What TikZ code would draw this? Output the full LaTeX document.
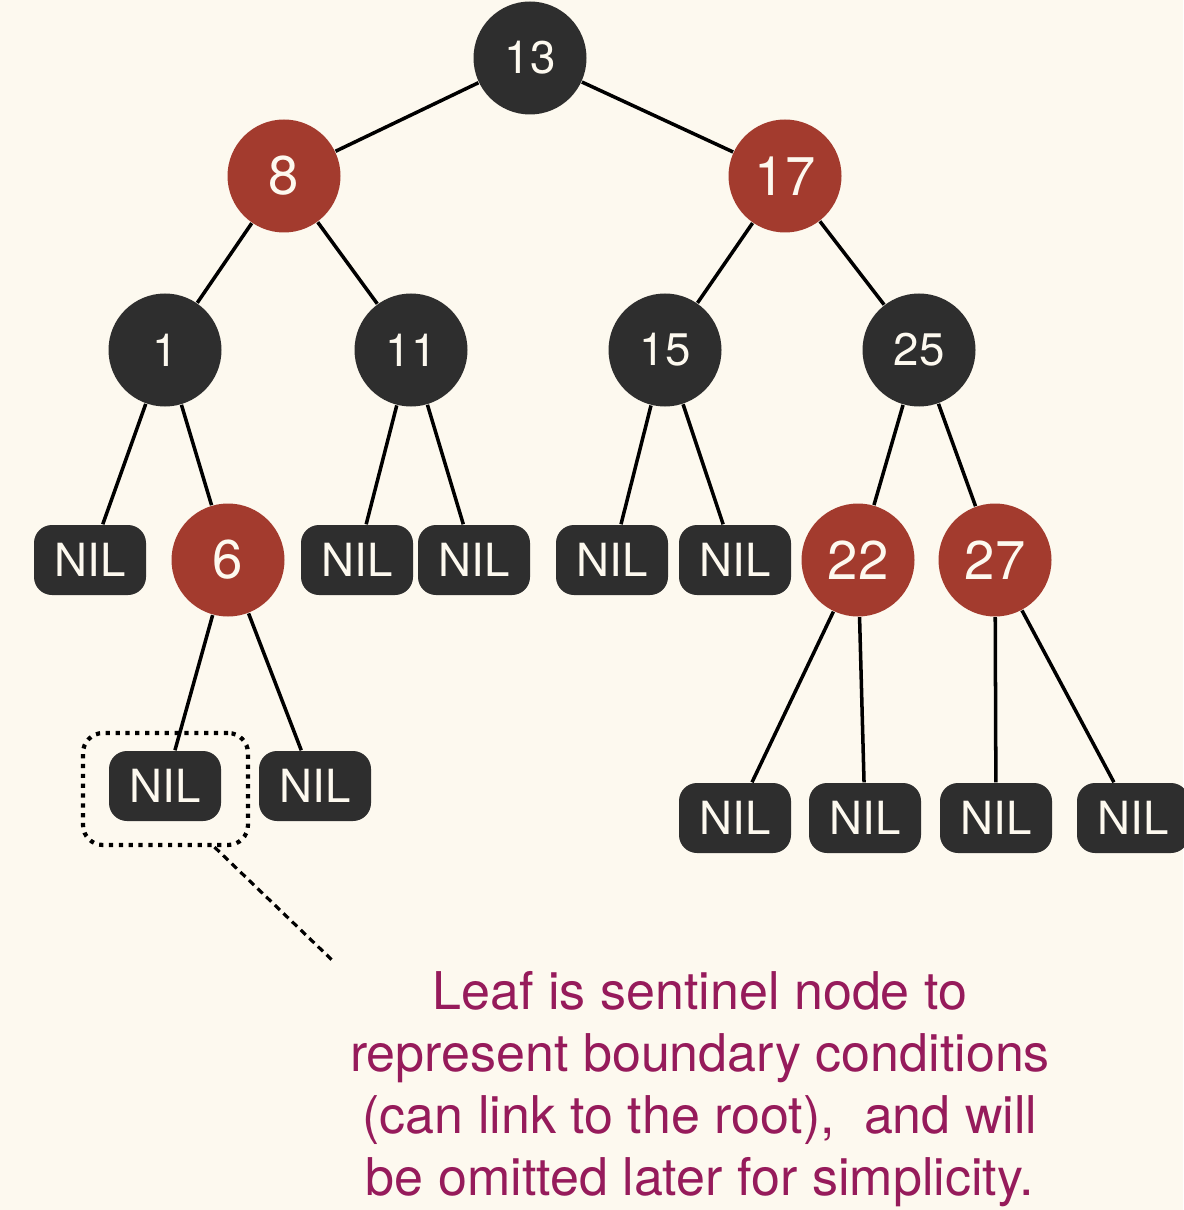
\documentclass[tikz,border=0pt]{standalone}
\usepackage{fontspec}
\setmainfont{TeX Gyre Heros}

\definecolor{paper}{HTML}{FDF9EF}
\definecolor{coal}{HTML}{2E2E2E}
\definecolor{brick}{HTML}{A33B2E}
\definecolor{plum}{HTML}{961B5B}

\tikzset{
    blacknode/.style = {circle, fill=coal, text=paper, minimum size=1.13cm, inner sep=0pt,
        font=\fontsize{13}{13}\selectfont},
    rednode/.style = {circle, fill=brick, text=paper, minimum size=1.13cm, inner sep=0pt,
        font=\fontsize{15.5}{15.5}\selectfont},
    nilnode/.style = {rectangle, rounded corners=0.18cm, fill=coal, text=paper,
        minimum width=1.12cm, minimum height=0.7cm, inner sep=0pt,
        font=\fontsize{13}{13}\selectfont},
    treeedge/.style = {line width=1pt},
    hintbox/.style = {rectangle, rounded corners=0.2cm, draw, line width=1.2pt,
        dash pattern=on 1.2pt off 1.6pt, minimum width=1.65cm, minimum height=1.12cm},
    leader/.style = {line width=0.9pt, dash pattern=on 2pt off 1.4pt}
}

\begin{document}
\begin{tikzpicture}
    \fill[paper] (0,0) rectangle (11.83,-12.10);
    \useasboundingbox (0,0) rectangle (11.83,-12.10);

    \node[blacknode] (n13) at (5.30,-0.58) {13};
    \node[rednode]   (n8)  at (2.84,-1.76) {8};
    \node[rednode]   (n17) at (7.85,-1.76) {17};
    \node[blacknode] (n1)  at (1.65,-3.50) {1};
    \node[blacknode] (n11) at (4.11,-3.50) {11};
    \node[blacknode] (n15) at (6.65,-3.50) {15};
    \node[blacknode] (n25) at (9.19,-3.50) {25};

    \node[nilnode]   (nilA) at (0.90,-5.60) {NIL};
    \node[rednode]   (n6)   at (2.28,-5.60) {6};
    \node[nilnode]   (nilB) at (3.57,-5.60) {NIL};
    \node[nilnode]   (nilC) at (4.74,-5.60) {NIL};
    \node[nilnode]   (nilD) at (6.12,-5.60) {NIL};
    \node[nilnode]   (nilE) at (7.35,-5.60) {NIL};
    \node[rednode]   (n22)  at (8.58,-5.60) {22};
    \node[rednode]   (n27)  at (9.95,-5.60) {27};

    \node[nilnode]   (nilF) at (1.65,-7.86) {NIL};
    \node[nilnode]   (nilG) at (3.15,-7.86) {NIL};
    \node[nilnode]   (nilH) at (7.35,-8.18) {NIL};
    \node[nilnode]   (nilI) at (8.65,-8.18) {NIL};
    \node[nilnode]   (nilJ) at (9.96,-8.18) {NIL};
    \node[nilnode]   (nilK) at (11.33,-8.18) {NIL};

    \draw[treeedge] (n13) -- (n8);
    \draw[treeedge] (n13) -- (n17);
    \draw[treeedge] (n8) -- (n1);
    \draw[treeedge] (n8) -- (n11);
    \draw[treeedge] (n17) -- (n15);
    \draw[treeedge] (n17) -- (n25);
    \draw[treeedge] (n1) -- (nilA);
    \draw[treeedge] (n1) -- (n6);
    \draw[treeedge] (n11) -- (nilB);
    \draw[treeedge] (n11) -- (nilC);
    \draw[treeedge] (n15) -- (nilD);
    \draw[treeedge] (n15) -- (nilE);
    \draw[treeedge] (n25) -- (n22);
    \draw[treeedge] (n25) -- (n27);
    \draw[treeedge] (n6) -- (nilF);
    \draw[treeedge] (n6) -- (nilG);
    \draw[treeedge] (n22) -- (nilH);
    \draw[treeedge] (n22) -- (nilI);
    \draw[treeedge] (n27) -- (nilJ);
    \draw[treeedge] (n27) -- (nilK);

    % sentinel hint
    \node[hintbox] (hint) at (1.655,-7.89) {};
    \coordinate (tip) at (3.32,-9.60);
    \draw[leader] ([xshift=4.9mm]hint.south) -- (tip);

    \node[text=plum, align=center, font=\fontsize{14.8}{17.6}\selectfont] (note)
        at (7.00,-10.89) {Leaf is sentinel node to\\represent boundary conditions\\(can link to the root),\ \ and will\\be omitted later for simplicity.};
\end{tikzpicture}
\end{document}
